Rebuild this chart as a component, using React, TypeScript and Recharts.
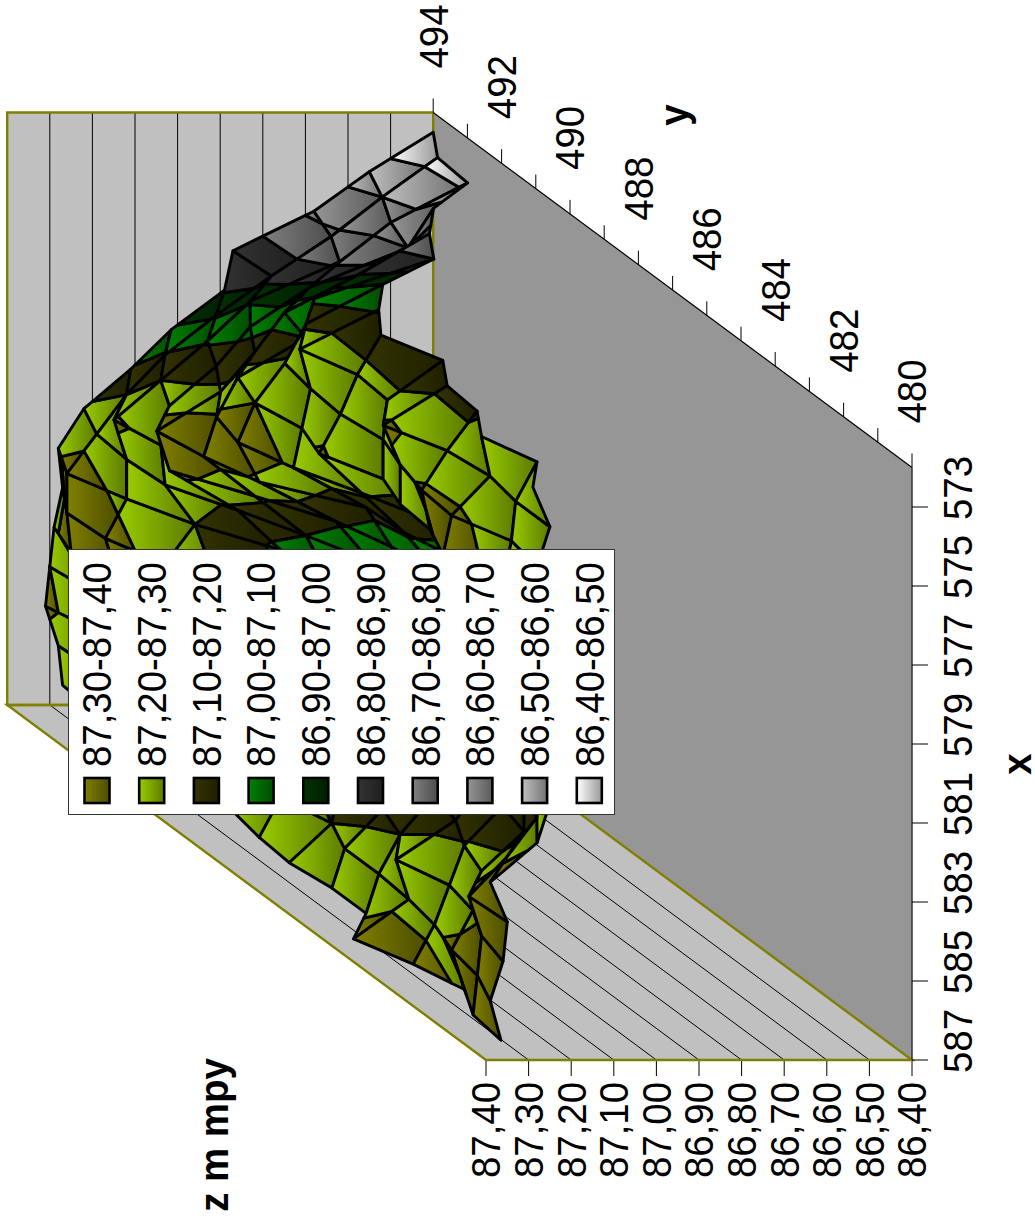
import React from "react";
import { ScatterChart, Scatter, XAxis, YAxis, Legend } from "recharts";

const WIDTH = 1035;
const HEIGHT = 1226;
const FONT = "'Liberation Sans', Arial, sans-serif";

const xTicks = [573, 575, 577, 579, 581, 583, 585, 587];
const yTicks = [480, 481, 482, 483, 484, 485, 486, 487, 488, 489, 490, 491, 492, 493, 494];
const yLabelled = [480, 482, 484, 486, 488, 490, 492, 494];
const zTicks = [86.4, 86.5, 86.6, 86.7, 86.8, 86.9, 87.0, 87.1, 87.2, 87.3, 87.4];

const bandLabels = [
  "87,30-87,40",
  "87,20-87,30",
  "87,10-87,20",
  "87,00-87,10",
  "86,90-87,00",
  "86,80-86,90",
  "86,70-86,80",
  "86,60-86,70",
  "86,50-86,60",
  "86,40-86,50",
];
const bandFrom = ["#808000", "#99cc00", "#333300", "#008000", "#003300", "#333333", "#808080", "#969696", "#c0c0c0", "#ffffff"];
const bandTo = ["#4d4d00", "#5c7a00", "#1f1f00", "#004d00", "#001f00", "#1f1f1f", "#4d4d4d", "#5a5a5a", "#737373", "#999999"];

// nodes of the surface
const gridX = [572.5, 573.5, 574.5, 575.5, 576.5, 577.5, 578.5, 579.5, 580.5, 581.5, 582.5, 583.5, 584.5, 585.5, 586.5];
const gridY = [494, 493, 492, 491, 490, 489, 488, 487, 486, 485, 484, 483, 482, 481, 480];
const surfaceZ = [
  [86.4, 86.47, 86.48, 86.64, 86.73, 86.8, 87.0, 87.09, 87.165, 87.1, 87.17, 87.18, 87.25, 87.2, 87.29],
  [86.55, 86.6, 86.66, 86.7, 86.89, 87.08, 87.18, 87.275, 87.22, 87.23, 87.32, 87.25, 87.23, 87.25, 87.25],
  [86.68, 86.72, 86.78, 86.93, 87.07, 87.1, 87.23, 87.25, 87.26, 87.24, 87.28, 87.31, 87.32, 87.26, 87.28],
  [86.87, 86.86, 86.99, 87.07, 87.14, 87.26, 87.3, 87.27, 87.31, 87.24, 87.28, 87.29, 87.34, 87.28, 87.25],
  [86.89, 86.99, 87.09, 87.15, 87.22, 87.31, 87.34, 87.29, 87.21, 87.14, 87.1, 87.15, 87.2, 87.22, 87.25],
  [87.015, 87.11, 87.2, 87.26, 87.37, 87.34, 87.29, 87.12, 87.11, 87.07, 87.05, 87.05, 87.1, 87.2, 87.25],
  [87.11, 87.2, 87.31, 87.28, 87.34, 87.22, 87.11, 87.06, 87.03, 87.0, 87.0, 87.05, 87.1, 87.2, 87.25],
  [87.22, 87.27, 87.28, 87.27, 87.18, 87.1, 87.03, 86.98, 86.95, 86.95, 87.0, 87.05, 87.15, 87.2, 87.25],
  [87.28, 87.34, 87.28, 87.2, 87.08, 87.05, 87.02, 87.0, 86.95, 86.95, 87.0, 87.05, 87.15, 87.2, 87.25],
  [87.27, 87.34, 87.33, 87.27, 87.15, 87.1, 87.06, 87.03, 87.0, 87.0, 87.02, 87.08, 87.15, 87.2, 87.28],
  [87.29, 87.33, 87.3, 87.28, 87.24, 87.18, 87.12, 87.08, 87.05, 87.05, 87.08, 87.12, 87.15, 87.27, 87.39],
  [87.3, 87.28, 87.28, 87.28, 87.25, 87.22, 87.18, 87.14, 87.12, 87.12, 87.15, 87.21, 87.25, 87.36, 87.35],
  [87.31, 87.27, 87.28, 87.28, 87.27, 87.25, 87.2, 87.18, 87.16, 87.2, 87.29, 87.245, 87.27, 87.33, 87.36],
  [87.28, 87.27, 87.27, 87.28, 87.27, 87.26, 87.24, 87.2, 87.25, 87.25, 87.26, 87.28, 87.32, 87.34, 87.39],
  [87.27, 87.28, 87.28, 87.28, 87.27, 87.27, 87.29, 87.3, 87.28, 87.28, 87.39, 87.33, 87.29, 87.35, 87.365],
];

type P3 = { x: number; y: number; z: number };

// oblique view: z grows to the left, the page is turned a quarter
function project(x: number, y: number, z: number) {
  return {
    px: 912 - 34.2 * (y - 480) - 426 * (z - 86.4),
    py: 1060 + 39.5 * (x - 587) - 25.36 * (y - 480),
  };
}

function makePoly(points: { px: number; py: number }[], style: Record<string, unknown>) {
  const px = points.reduce((s, p) => s + p.px, 0) / points.length;
  const py = points.reduce((s, p) => s + p.py, 0) / points.length;
  return { px, py, pts: points.map((p) => ({ dx: p.px - px, dy: p.py - py })), ...style };
}

function clipBand(poly: P3[], lo: number, hi: number) {
  const clip = (input: P3[], edge: number, keepAbove: boolean) => {
    const out: P3[] = [];
    input.forEach((a, i) => {
      const b = input[(i + 1) % input.length];
      const aIn = keepAbove ? a.z >= edge : a.z <= edge;
      const bIn = keepAbove ? b.z >= edge : b.z <= edge;
      if (aIn) out.push(a);
      if (aIn !== bIn) {
        const t = (edge - a.z) / (b.z - a.z);
        out.push({ x: a.x + (b.x - a.x) * t, y: a.y + (b.y - a.y) * t, z: edge });
      }
    });
    return out;
  };
  return clip(clip(poly, lo, true), hi, false);
}

function buildSurface() {
  const cells: ReturnType<typeof makePoly>[] = [];
  for (let i = gridX.length - 2; i >= 0; i--) {
    for (let k = 0; k < gridY.length - 1; k++) {
      const quad: P3[] = [
        { x: gridX[i], y: gridY[k], z: surfaceZ[i][k] },
        { x: gridX[i + 1], y: gridY[k], z: surfaceZ[i + 1][k] },
        { x: gridX[i + 1], y: gridY[k + 1], z: surfaceZ[i + 1][k + 1] },
        { x: gridX[i], y: gridY[k + 1], z: surfaceZ[i][k + 1] },
      ];
      for (let b = 0; b < bandLabels.length; b++) {
        const hi = zTicks[zTicks.length - 1 - b];
        const lo = zTicks[zTicks.length - 2 - b];
        const part = clipBand(quad, lo, hi);
        if (part.length >= 3) {
          cells.push(
            makePoly(part.map((p) => project(p.x, p.y, p.z)), {
              fill: `url(#band${b})`,
              stroke: "#000",
              strokeWidth: 2.9,
            })
          );
        }
      }
    }
  }
  return cells;
}

function buildFrame() {
  const xa = 572;
  const xb = 587;
  const ya = 480;
  const yb = 494;
  const za = 86.4;
  const zb = 87.4;
  const wall = { fill: "#c0c0c0", stroke: "none", strokeWidth: 0 };
  const thin = { fill: "none", stroke: "#000", strokeWidth: 1 };
  const olive = { fill: "none", stroke: "#808000", strokeWidth: 2.4 };
  const out: ReturnType<typeof makePoly>[] = [];
  out.push(makePoly([project(xa, ya, za), project(xb, ya, za), project(xb, yb, za), project(xa, yb, za)], { fill: "#969696", stroke: "none", strokeWidth: 0 }));
  out.push(makePoly([project(xa, yb, za), project(xb, yb, za), project(xb, yb, zb), project(xa, yb, zb)], wall));
  out.push(makePoly([project(xb, ya, za), project(xb, yb, za), project(xb, yb, zb), project(xb, ya, zb)], wall));
  zTicks.forEach((z) => {
    out.push(makePoly([project(xa, yb, z), project(xb, yb, z), project(xb, ya, z)], thin));
    const t = project(xb, ya, z);
    out.push(makePoly([t, { px: t.px, py: t.py + 16 }], thin));
  });
  const backEdge = [project(xa, yb, za), project(xb, yb, za), project(xb, yb, zb), project(xa, yb, zb), project(xa, yb, za)];
  const sideEdge = [project(xb, yb, za), project(xb, ya, za), project(xb, ya, zb), project(xb, yb, zb), project(xb, yb, za)];
  out.push(makePoly(backEdge, olive));
  out.push(makePoly(sideEdge, olive));
  // floor edges and ticks
  out.push(makePoly([project(xa, yb, za), project(xa, ya, za)], { fill: "none", stroke: "#000", strokeWidth: 1.2 }));
  out.push(makePoly([project(xa, ya, za), project(xb, ya, za)], { fill: "none", stroke: "#333", strokeWidth: 1.5 }));
  yTicks.forEach((y) => {
    const t = project(xa, y, za);
    out.push(makePoly([t, { px: t.px, py: t.py - 14 }], thin));
  });
  xTicks.forEach((x) => {
    const t = project(x, ya, za);
    out.push(makePoly([t, { px: t.px + 16, py: t.py }], thin));
  });
  return out;
}

function buildLabels() {
  const out: { px: number; py: number; label: string; bold?: boolean }[] = [];
  xTicks.forEach((x) => {
    const t = project(x, 480, 86.4);
    out.push({ px: t.px + 46, py: t.py - 19, label: String(x) });
  });
  yLabelled.forEach((y) => {
    const t = project(572, y, 86.4);
    out.push({ px: t.px, py: t.py - 76, label: String(y) });
  });
  zTicks.forEach((z) => {
    const t = project(587, 480, z);
    out.push({ px: t.px, py: t.py + 70, label: z.toFixed(2).replace(".", ",") });
  });
  out.push({ px: 1017, py: 764, label: "x", bold: true });
  out.push({ px: 674, py: 115, label: "y", bold: true });
  out.push({ px: 214, py: 1135, label: "z m mpy", bold: true });
  return out;
}

const surfaceCells = buildSurface();
const frameParts = buildFrame();
const axisLabels = buildLabels();

function PolyShape(props: any) {
  const { cx, cy, payload } = props;
  const points = payload.pts.map((p: any) => `${cx + p.dx},${cy + p.dy}`).join(" ");
  if (payload.fill === "none") {
    return <polyline points={points} fill="none" stroke={payload.stroke} strokeWidth={payload.strokeWidth} />;
  }
  return (
    <polygon
      points={points}
      fill={payload.fill}
      stroke={payload.stroke}
      strokeWidth={payload.strokeWidth}
      strokeLinejoin="round"
    />
  );
}

function TextShape(props: any) {
  const { cx, cy, payload } = props;
  return (
    <text
      dy="0.35em"
      textAnchor="middle"
      transform={`translate(${cx} ${cy}) rotate(-90) scale(1 1.07)`}
      fontFamily={FONT}
      fontSize={38.4}
      fontWeight={payload.bold ? "bold" : "normal"}
      fill="#000"
    >
      {payload.label}
    </text>
  );
}

function BandLegend() {
  return (
    <svg width={547} height={266} style={{ display: "block" }}>
      <rect x={0.5} y={0.5} width={546} height={265} fill="#fff" stroke="#333" strokeWidth={1} />
      {bandLabels.map((label, b) => {
        const cx = 29 + b * 54.7;
        return (
          <g key={label}>
            <rect x={cx - 12.5} y={229} width={25} height={25} fill={`url(#band${b})`} stroke="#000" strokeWidth={2.6} />
            <text
              dy="0.35em"
              transform={`translate(${cx} 218) rotate(-90) scale(1 1.07)`}
              fontFamily={FONT}
              fontSize={38.4}
              fill="#000"
            >
              {label}
            </text>
          </g>
        );
      })}
    </svg>
  );
}

export default function App() {
  return (
    <div style={{ position: "absolute", left: 0, top: 0, width: WIDTH, height: HEIGHT, background: "#fff" }}>
      <ScatterChart width={WIDTH} height={HEIGHT} margin={{ top: 0, right: 0, bottom: 0, left: 0 }}>
        <defs>
          {bandFrom.map((c, b) => (
            <linearGradient key={c} id={`band${b}`} x1="0" y1="0" x2="1" y2="0">
              <stop offset="0%" stopColor={c} />
              <stop offset="100%" stopColor={bandTo[b]} />
            </linearGradient>
          ))}
        </defs>
        <XAxis type="number" dataKey="px" domain={[0, WIDTH]} hide />
        <YAxis type="number" dataKey="py" domain={[0, HEIGHT]} reversed hide />
        <Scatter data={frameParts} shape={PolyShape} isAnimationActive={false} />
        <Scatter data={surfaceCells} shape={PolyShape} isAnimationActive={false} />
        <Scatter data={axisLabels} shape={TextShape} isAnimationActive={false} />
        <Legend
          layout="horizontal"
          verticalAlign="middle"
          align="center"
          wrapperStyle={{ position: "absolute", left: 68, top: 549, width: 547, height: 266 }}
          content={() => <BandLegend />}
        />
      </ScatterChart>
    </div>
  );
}
